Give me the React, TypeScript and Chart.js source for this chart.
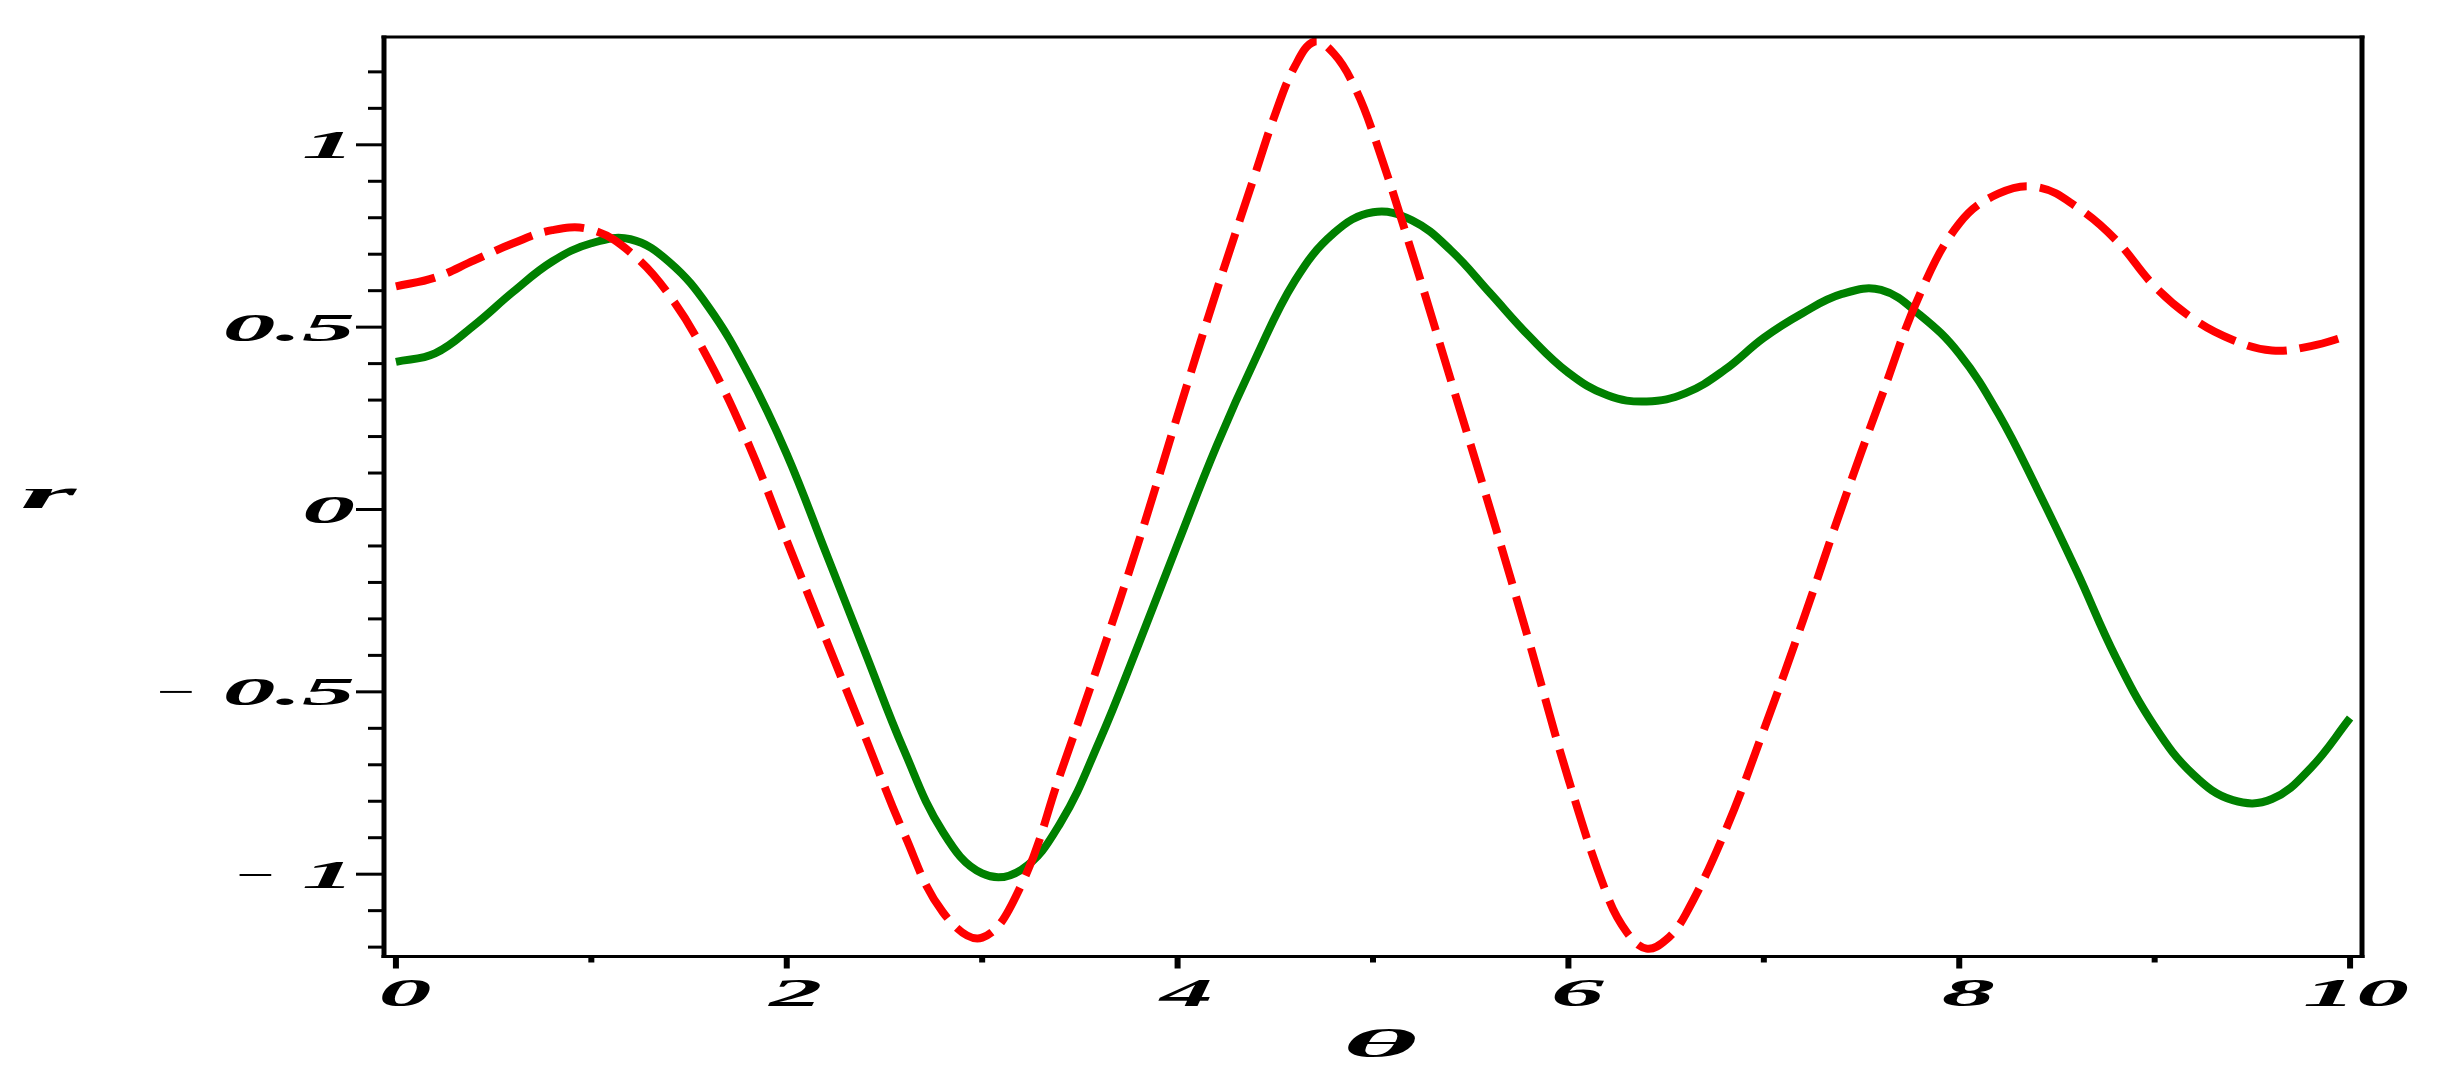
import React, { useEffect, useRef } from "react";
import { Chart, registerables } from "chart.js";

Chart.register(...registerables);

// ---- data ----
const thetaGreen = [
  0, 0.2, 0.4, 0.6, 0.8, 1.0, 1.2, 1.4, 1.6, 1.8, 2.0, 2.2, 2.4, 2.6, 2.8, 3.0, 3.2,
  3.4, 3.6, 3.8, 4.0, 4.2, 4.4, 4.6, 4.8, 5.0, 5.2, 5.4, 5.6, 5.8, 6.0, 6.2, 6.4,
  6.6, 6.8, 7.0, 7.2, 7.4, 7.6, 7.8, 8.0, 8.2, 8.4, 8.6, 8.8, 9.0, 9.2, 9.4, 9.6,
  9.8, 10.0,
];
const rGreen = [
  0.405, 0.428, 0.505, 0.597, 0.68, 0.73, 0.741, 0.678, 0.555, 0.376, 0.152, -0.118, -0.39, -0.66, -0.885, -0.998, -0.988,
  -0.86, -0.635, -0.37, -0.095, 0.175, 0.415, 0.627, 0.758, 0.815, 0.793, 0.71, 0.593, 0.475, 0.375, 0.313, 0.296,
  0.319, 0.383, 0.471, 0.539, 0.591, 0.602, 0.533, 0.427, 0.263, 0.055, -0.168, -0.404, -0.595, -0.728, -0.797, -0.794,
  -0.708, -0.572,
];

const thetaRed = [
  0, 0.2, 0.4, 0.6, 0.8, 1.0, 1.2, 1.4, 1.6, 1.8, 2.0, 2.2, 2.4, 2.6, 2.8, 3.0, 3.2,
  3.4, 3.6, 3.8, 4.0, 4.2, 4.4, 4.5, 4.6, 4.7, 4.8, 4.9, 5.0, 5.2, 5.4, 5.6, 5.8,
  6.0, 6.2, 6.3, 6.4, 6.5, 6.6, 6.8, 7.0, 7.2, 7.4, 7.6, 7.8, 8.0, 8.2, 8.4, 8.6,
  8.8, 9.0, 9.2, 9.4, 9.6, 9.8, 10.0,
];
const rRed = [
  0.612, 0.636, 0.683, 0.73, 0.766, 0.767, 0.705, 0.587, 0.41, 0.185, -0.085, -0.355, -0.622, -0.888, -1.105, -1.174, -1.03,
  -0.725, -0.415, -0.09, 0.258, 0.6, 0.925, 1.085, 1.215, 1.283, 1.25, 1.165, 1.033, 0.703, 0.352, 0.0, -0.364,
  -0.739, -1.06, -1.16, -1.204, -1.18, -1.11, -0.885, -0.604, -0.305, 0.008, 0.306, 0.592, 0.784, 0.866, 0.884, 0.83,
  0.74, 0.612, 0.522, 0.465, 0.436, 0.448, 0.478,
];

// ---- axes ----
const xRange = [-0.061, 10.061];
const yRange = [-1.2257, 1.2956];
const xMajorTicks = [0, 2, 4, 6, 8, 10];
const xMajorLabels = ["0", "2", "4", "6", "8", "10"];
const xMinorTicks = [1, 3, 5, 7, 9];
const yMajorTicks = [-1, -0.5, 0, 0.5, 1];
const yMajorLabels = ["\u2212 1", "\u2212 0.5", "0", "0.5", "1"];
const yMinorTicks = [-1.2, -1.1, -0.9, -0.8, -0.7, -0.6, -0.4, -0.3, -0.2, -0.1, 0.1, 0.2, 0.3, 0.4, 0.6, 0.7, 0.8, 0.9, 1.1, 1.2];
const xTitle = "\u03b8";
const yTitle = "r";

const FONT = "italic bold 40px 'Liberation Serif'";
const STRETCH = 2.65;

function stretchText(ctx: CanvasRenderingContext2D, text: string, x: number, y: number, sx: number, align: CanvasTextAlign) {
  ctx.save();
  ctx.translate(x, y);
  ctx.scale(sx, 1);
  ctx.textAlign = align;
  ctx.textBaseline = "alphabetic";
  ctx.fillText(text, 0, 0);
  ctx.restore();
}

const maplePlugin = {
  id: "mapleFrame",
  afterDatasetsDraw(chart: any) {
    const { ctx, chartArea: a, scales } = chart;
    const xs = scales.x;
    const ys = scales.y;
    ctx.save();
    ctx.fillStyle = "#000";
    const h = a.bottom - a.top;
    const w = a.right - a.left;
    // frame
    ctx.fillRect(a.left - 2.5, a.top - 1.5, 5, h + 3);
    ctx.fillRect(a.right - 2.5, a.top - 1.5, 5, h + 3);
    ctx.fillRect(a.left - 2.5, a.top - 1.5, w + 5, 3);
    ctx.fillRect(a.left - 2.5, a.bottom - 1.5, w + 5, 3);
    // y ticks
    yMinorTicks.forEach((v) => {
      const p = ys.getPixelForValue(v);
      ctx.fillRect(a.left - 16, p - 1.5, 16, 3);
    });
    yMajorTicks.forEach((v) => {
      const p = ys.getPixelForValue(v);
      ctx.fillRect(a.left - 28, p - 1.5, 28, 3);
    });
    // x ticks
    xMinorTicks.forEach((v) => {
      const p = xs.getPixelForValue(v);
      ctx.fillRect(p - 3, a.bottom, 6, 6);
    });
    xMajorTicks.forEach((v) => {
      const p = xs.getPixelForValue(v);
      ctx.fillRect(p - 3, a.bottom, 6, 12);
    });
    // tick labels
    ctx.font = FONT;
    yMajorTicks.forEach((v, i) => {
      const p = ys.getPixelForValue(v);
      const label = yMajorLabels[i];
      const right = a.left - 29;
      const base = p + 13.5;
      if (label.startsWith("\u2212 ")) {
        const num = label.slice(2);
        stretchText(ctx, num, right, base, STRETCH, "right");
        const numW = ctx.measureText(num).width * STRETCH;
        ctx.save();
        ctx.font = "italic 40px 'Liberation Serif'";
        stretchText(ctx, "\u2212", right - numW - 24, base, 1.7, "right");
        ctx.restore();
      } else {
        stretchText(ctx, label, right, base, STRETCH, "right");
      }
    });
    xMajorTicks.forEach((v, i) => {
      const p = xs.getPixelForValue(v);
      const off = xMajorLabels[i].length > 1 ? 6 : 9;
      stretchText(ctx, xMajorLabels[i], p + off, a.bottom + 49, STRETCH, "center");
    });
    // axis titles
    stretchText(ctx, yTitle, 20, 508, 3.6, "left");
    stretchText(ctx, xTitle, (a.left + a.right) / 2 + 7, 1057, 3.6, "center");
    ctx.restore();
  },
};

export default function App() {
  const canvasRef = useRef<HTMLCanvasElement | null>(null);

  useEffect(() => {
    const canvas = canvasRef.current;
    if (!canvas) return;
    const green = thetaGreen.map((t, i) => ({ x: t, y: rGreen[i] }));
    const red = thetaRed.map((t, i) => ({ x: t, y: rRed[i] }));
    const chart = new Chart(canvas, {
      type: "line",
      data: {
        datasets: [
          {
            label: "r1",
            data: red,
            borderColor: "#ff0000",
            borderWidth: 8,
            borderDash: [40, 13],
            pointRadius: 0,
            tension: 0.4,
            fill: false,
          },
          {
            label: "r2",
            data: green,
            borderColor: "#008000",
            borderWidth: 8,
            pointRadius: 0,
            tension: 0.4,
            fill: false,
          },
        ],
      },
      options: {
        animation: false,
        responsive: true,
        maintainAspectRatio: false,
        devicePixelRatio: 1,
        layout: { padding: { left: 384, top: 37, right: 86, bottom: 127.5 } },
        plugins: { legend: { display: false }, tooltip: { enabled: false }, title: { display: false } },
        scales: {
          x: { type: "linear", min: xRange[0], max: xRange[1], display: false },
          y: { type: "linear", min: yRange[0], max: yRange[1], display: false },
        },
      },
      plugins: [maplePlugin],
    });
    return () => chart.destroy();
  }, []);

  return (
    <div style={{ position: "fixed", left: 0, top: 0, width: 2448, height: 1084, background: "#fff" }}>
      <canvas ref={canvasRef} />
    </div>
  );
}
